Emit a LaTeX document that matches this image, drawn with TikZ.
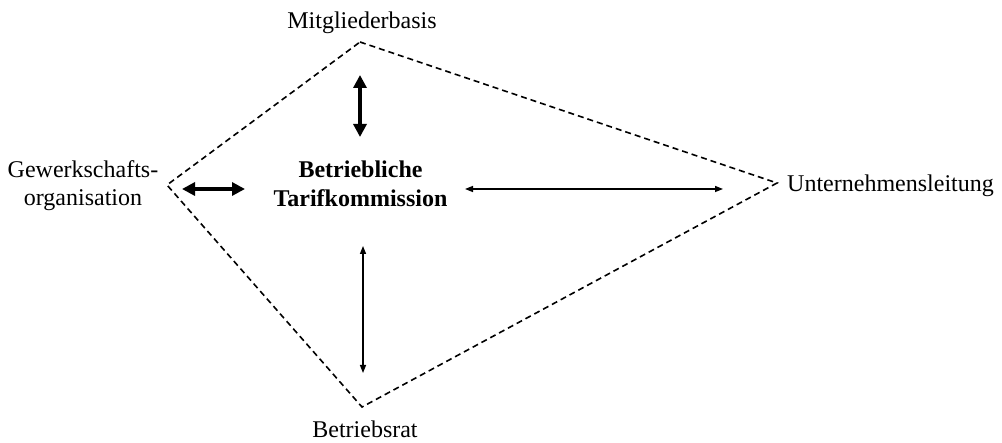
\documentclass[tikz,border=0pt]{standalone}
\usepackage{fontspec}
\setmainfont{Liberation Serif}
\usetikzlibrary{arrows.meta}
\begin{document}
\begin{tikzpicture}[x=1pt,y=-1pt,
  lbl/.style={inner sep=0pt,font=\fontsize{24}{28}\selectfont},
  frame/.style={line width=1.6pt,dash pattern=on 6pt off 4pt},
  thickarrow/.style={line width=3.2pt,{Triangle[length=13pt,width=13pt]}-{Triangle[length=13pt,width=13pt]}},
  thinarrow/.style={line width=1.4pt,{Triangle[length=8pt,width=6pt]}-{Triangle[length=8pt,width=6pt]}}]
\useasboundingbox (0,0) rectangle (1002,443);
% labels
\node[lbl,anchor=base] (mit) at (362,29) {Mitgliederbasis};
\node[lbl,anchor=base,align=center] (gew) at (83,206) {Gewerkschafts-\\organisation};
\node[lbl,anchor=base west] (unt) at (787,192) {Unternehmensleitung};
\node[lbl,anchor=base] (br) at (365,438) {Betriebsrat};
\node[lbl,anchor=base,align=center,font=\fontsize{24}{29}\selectfont\bfseries] (btk) at (360.5,207) {Betriebliche\\Tarifkommission};
% frame vertices
\coordinate (vt) at (360,42);
\coordinate (vl) at (167,185);
\coordinate (vb) at (362,407);
\coordinate (vr) at (777,183);
\draw[frame] (vt) -- (vr) -- (vb) -- (vl) -- cycle;
% arrow end points
\coordinate (a1) at (360,75);
\coordinate (a2) at (360,137);
\coordinate (b1) at (182,189);
\coordinate (b2) at (245,189);
\coordinate (c1) at (465,189);
\coordinate (c2) at (723,189);
\coordinate (d1) at (363,246);
\coordinate (d2) at (363,373);
\draw[thickarrow] (a1) -- (a2);
\draw[thickarrow] (b1) -- (b2);
\draw[thinarrow] (c1) -- (c2);
\draw[thinarrow] (d1) -- (d2);
\end{tikzpicture}
\end{document}
